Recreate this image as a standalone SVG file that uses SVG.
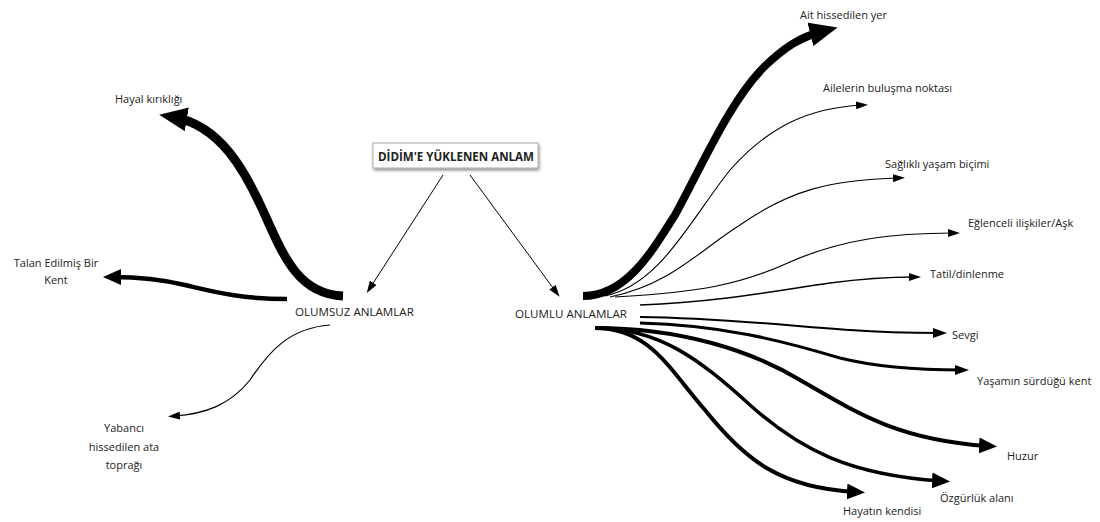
<svg xmlns="http://www.w3.org/2000/svg" width="1100" height="522" viewBox="0 0 1100 522">
<style>
  text { font-family: "Open Sans", "Noto Sans", "Liberation Sans", sans-serif; fill: #222; }
  .lbl { font-size: 11px; }
  .main { font-size: 11.6px; }
  .title { font-size: 12px; font-weight: bold; }
  .c { fill: none; stroke: #000; stroke-linecap: butt; }
</style>
<defs>
  <marker id="ah-big" markerUnits="userSpaceOnUse" markerWidth="28" markerHeight="24" refX="14" refY="12" orient="auto" viewBox="0 0 28 24">
    <path d="M0,0 L28,12 L0,24 z" fill="#000"/>
  </marker>
  <marker id="ah-med" markerUnits="userSpaceOnUse" markerWidth="18" markerHeight="16" refX="9" refY="8" orient="auto" viewBox="0 0 18 16">
    <path d="M0,0 L18,8 L0,16 z" fill="#000"/>
  </marker>
  <marker id="ah-sm2" markerUnits="userSpaceOnUse" markerWidth="14" markerHeight="10" refX="7" refY="5" orient="auto" viewBox="0 0 14 10">
    <path d="M0,0 L14,5 L0,10 z" fill="#000"/>
  </marker>
  <marker id="ah-sm" markerUnits="userSpaceOnUse" markerWidth="12" markerHeight="8" refX="6" refY="4" orient="auto" viewBox="0 0 12 8">
    <path d="M0,0 L12,4 L0,8 z" fill="#000"/>
  </marker>
  <filter id="shadow" x="-10%" y="-30%" width="120%" height="170%">
    <feGaussianBlur in="SourceAlpha" stdDeviation="1.5"/>
    <feOffset dx="1" dy="2" result="b"/>
    <feComponentTransfer><feFuncA type="linear" slope="0.45"/></feComponentTransfer>
    <feMerge><feMergeNode/><feMergeNode in="SourceGraphic"/></feMerge>
  </filter>
</defs>
<rect width="1100" height="522" fill="#fff"/>

<g id="connectors">
  <!-- title to categories -->
  <path class="c" stroke-width="1" d="M443,175 L370,288" marker-end="url(#ah-sm)"/>
  <path class="c" stroke-width="1" d="M470,175 L556,292" marker-end="url(#ah-sm)"/>
  <!-- negative -->
  <path class="c" stroke-width="9" d="M343,296 C300,294 285,260 265,215 C245,170 220,125 173,117" marker-end="url(#ah-big)"/>
  <path class="c" stroke-width="4.5" d="M287,299 C240,299 215,292 185,285 C160,279 140,277 112,277" marker-end="url(#ah-med)"/>
  <path class="c" stroke-width="1.2" d="M330,325 C290,328 270,350 250,380 C230,405 205,414 174,416" marker-end="url(#ah-sm)"/>
  <!-- positive -->
  <path class="c" stroke-width="8" d="M583,296 C625,296 650,255 675,215 C700,170 730,100 765,66 C785,47 800,37 824,31" marker-end="url(#ah-big)"/>
  <path class="c" stroke-width="1.1" d="M605,296 C660,285 690,220 730,170 C770,125 810,108 862,105" marker-end="url(#ah-sm)"/>
  <path class="c" stroke-width="1.1" d="M610,297 C670,285 700,250 740,225 C790,190 830,180 899,178" marker-end="url(#ah-sm)"/>
  <path class="c" stroke-width="1.2" d="M615,297 C700,292 740,285 790,262 C840,240 890,233 954,233" marker-end="url(#ah-sm)"/>
  <path class="c" stroke-width="1.5" d="M640,305 C720,302 780,290 830,283 C860,279 890,277 915,277" marker-end="url(#ah-sm)"/>
  <path class="c" stroke-width="2" d="M640,317 C720,318 780,325 850,330 C890,333 915,333 940,333" marker-end="url(#ah-sm2)"/>
  <path class="c" stroke-width="3" d="M640,323 C720,325 780,340 840,358 C880,368 920,370 962,370" marker-end="url(#ah-sm2)"/>
  <path class="c" stroke-width="4" d="M595,328 C680,328 750,350 800,380 C860,415 900,440 988,446" marker-end="url(#ah-med)"/>
  <path class="c" stroke-width="3.5" d="M595,328 C660,328 700,360 750,405 C800,450 850,475 941,481" marker-end="url(#ah-med)"/>
  <path class="c" stroke-width="4" d="M595,328 C650,328 670,370 705,410 C745,460 780,488 856,492" marker-end="url(#ah-med)"/>
</g>

<g id="node-title">
  <rect x="373" y="143" width="165" height="25" fill="#fff" stroke="#aaa" stroke-width="1" filter="url(#shadow)"/>
  <text class="title" x="456" y="161" text-anchor="middle" textLength="156" lengthAdjust="spacingAndGlyphs">DİDİM'E YÜKLENEN ANLAM</text>
</g>
<g id="node-olumsuz"><text class="main" x="295" y="316">OLUMSUZ ANLAMLAR</text></g>
<g id="node-olumlu"><text class="main" x="515" y="318">OLUMLU ANLAMLAR</text></g>

<g id="node-hayal"><text class="lbl" x="115" y="103">Hayal kırıklığı</text></g>
<g id="node-talan"><text class="lbl" x="56" y="267" text-anchor="middle">Talan Edilmiş Bir</text><text class="lbl" x="56" y="284" text-anchor="middle">Kent</text></g>
<g id="node-yabanci"><text class="lbl" x="124" y="432" text-anchor="middle">Yabancı</text><text class="lbl" x="124" y="451" text-anchor="middle">hissedilen ata</text><text class="lbl" x="124" y="469" text-anchor="middle">toprağı</text></g>

<g id="node-ait"><text class="lbl" x="800" y="19">Ait hissedilen yer</text></g>
<g id="node-aileler"><text class="lbl" x="823" y="92">Ailelerin buluşma noktası</text></g>
<g id="node-saglikli"><text class="lbl" x="885" y="168">Sağlıklı yaşam biçimi</text></g>
<g id="node-eglenceli"><text class="lbl" x="968" y="227">Eğlenceli ilişkiler/Aşk</text></g>
<g id="node-tatil"><text class="lbl" x="930" y="278">Tatil/dinlenme</text></g>
<g id="node-sevgi"><text class="lbl" x="952" y="339">Sevgi</text></g>
<g id="node-yasamin"><text class="lbl" x="977" y="385">Yaşamın sürdüğü kent</text></g>
<g id="node-huzur"><text class="lbl" x="1007" y="460">Huzur</text></g>
<g id="node-ozgurluk"><text class="lbl" x="940" y="502">Özgürlük alanı</text></g>
<g id="node-hayatin"><text class="lbl" x="843" y="515">Hayatın kendisi</text></g>
</svg>
